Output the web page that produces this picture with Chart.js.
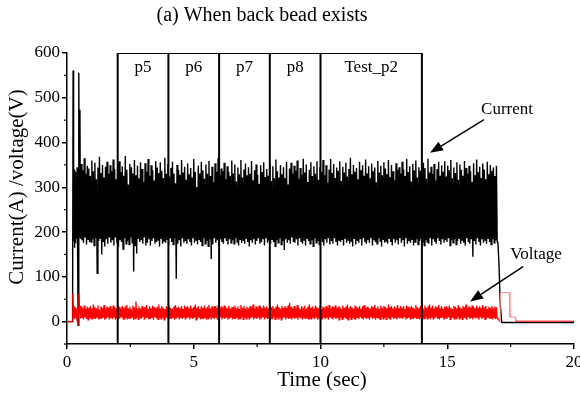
<!DOCTYPE html>
<html>
<head>
<meta charset="utf-8">
<script src="https://cdn.jsdelivr.net/npm/chart.js@4.4.1/dist/chart.umd.min.js"></script>
<style>
  html, body { margin: 0; padding: 0; background: #fff; }
  #wrap { width: 580px; height: 396px; }
</style>
</head>
<body>
<div id="wrap"><canvas id="chart"></canvas></div>
<script>
// axis ticks
const xTicks = [0, 5, 10, 15, 20];
const xMinor = [2.5, 7.5, 12.5, 17.5];
const yTicks = [0, 100, 200, 300, 400, 500, 600];
const yMinor = [-50, 50, 150, 250, 350, 450, 550];

// test windows
const boxEdges = [2, 4, 6, 8, 10, 14];
const boxLabels = ['p5', 'p6', 'p7', 'p8', 'Test_p2'];

// arc start transient [time, value]
const currentStart = [[0, 0], [0.22, 0], [0.24, 561], [0.26, 180], [0.28, 340], [0.30, 165], [0.32, 335], [0.34, 175],
    [0.36, 290], [0.38, 185], [0.40, 345], [0.42, 140], [0.44, -8], [0.46, -8], [0.47, 556], [0.49, 190], [0.51, 473], [0.53, 185]];
const voltageStart = [[0, 0], [0.22, 0], [0.23, 62], [0.25, 30], [0.27, 8], [0.29, 34], [0.31, 6], [0.33, 31], [0.35, 9],
    [0.37, 28], [0.39, 5], [0.41, 0], [0.43, -3], [0.45, 30], [0.47, 62], [0.49, 20], [0.51, 36], [0.53, 7]];

// steady welding, sampled every 0.03 s from 0.56 s
const bodyStart = 0.56;
const bodyStep = 0.03;
const currentBody = [
    352,182,338,176,365,188,330,172,348,184,342,178,325,178,360,184,336,170,355,186,
    318,108,344,180,368,186,332,150,350,178,322,168,346,184,357,174,330,188,349,176,
    336,182,362,170,341,188,318,176,353,166,358,182,334,178,347,162,326,186,370,174,
    339,180,306,172,352,188,345,176,331,112,361,170,327,152,348,186,320,178,356,182,
    341,174,312,188,354,170,335,176,363,184,326,170,349,180,338,186,315,174,359,178,
    344,182,332,168,356,186,337,174,321,180,366,176,330,184,352,170,324,188,343,178,
    357,172,331,186,309,96,350,174,339,182,328,168,361,186,333,176,346,180,317,174,
    353,184,329,178,343,170,322,186,363,176,334,182,300,172,348,184,331,178,357,170,
    338,186,319,174,351,180,330,168,359,184,325,140,346,172,311,186,354,176,335,182,
    365,170,327,184,342,178,336,174,355,186,318,180,347,172,334,184,326,176,360,182,
    331,174,351,186,313,178,344,170,329,184,361,176,322,182,340,174,353,186,327,178,
    345,168,330,182,359,176,316,184,338,172,351,180,328,186,308,174,349,178,334,184,
    356,170,323,186,341,176,326,182,352,174,314,184,347,178,320,168,362,182,336,176,
    322,186,350,172,329,180,345,160,321,184,357,176,306,182,342,174,355,188,331,178,
    348,176,337,184,360,170,319,186,343,178,328,174,364,182,333,170,351,186,312,180,
    339,174,356,182,325,168,347,186,330,176,358,180,317,172,345,184,334,178,361,170,
    327,184,349,176,310,186,340,172,363,180,332,174,352,186,321,178,344,170,337,182,
    358,178,314,184,346,170,333,186,355,176,324,182,341,174,366,180,329,168,350,186,
    335,172,343,180,318,176,357,184,338,170,349,186,326,178,362,174,331,182,347,176,
    320,186,353,170,336,182,344,178,311,174,359,186,333,180,348,168,327,184,356,176,
    342,180,329,174,361,186,323,178,350,170,336,184,316,176,354,182,339,172,345,186,
    331,176,357,182,340,168,325,186,363,174,334,180,347,176,313,184,352,170,338,178,
    360,184,322,172,345,180,337,186,328,176,355,170,343,182,319,178,364,174,333,186,
    346,170,330,184,352,178,315,174,341,186,357,180,326,172,349,184,335,176,358,182,
    324,178,348,186,338,170,361,182,320,176,344,184,332,172,356,180,317,186,351,174,
    339,182,326,176,359,170,343,186,330,178,348,174,336,184,312,145,354,180,327,172,
    362,186,334,178,346,170,321,184,353,176,340,182,318,174,357,186,329,178,350,172,
    337,184,344,176,325,182,348,178
];
const voltageBody = [
    34,8,30,5,36,10,28,6,33,4,31,9,35,7,29,5,38,8,32,6,
    30,10,36,5,27,8,34,6,31,9,37,4,29,7,33,10,30,5,35,8,
    28,6,36,9,32,4,30,8,38,5,33,7,29,10,35,6,31,4,34,9,
    37,5,30,8,33,6,28,10,36,4,32,7,45,9,30,5,34,8,29,6,
    35,10,31,4,33,7,37,9,28,5,34,6,30,8,36,4,32,10,29,7,
    33,5,38,8,30,6,35,9,31,4,28,7,34,10,32,5,36,8,30,6,
    29,9,34,4,37,7,31,10,33,5,30,8,35,6,28,9,36,4,32,7,
    34,10,30,5,36,8,29,6,33,9,38,4,31,7,35,10,28,5,34,8,
    31,6,36,9,30,4,33,7,37,10,29,5,34,8,32,6,35,9,30,4,
    37,7,28,10,34,5,31,8,36,6,33,9,30,4,35,7,29,10,32,5,
    33,8,36,6,30,9,34,4,28,7,37,10,31,5,35,8,29,6,33,9,
    30,4,35,7,32,10,38,5,29,8,34,6,31,9,36,4,33,7,30,10,
    36,5,31,8,34,6,29,9,37,4,32,7,35,10,30,5,33,8,38,6,
    32,9,29,4,35,7,31,10,34,5,30,8,36,6,42,7,33,5,29,9,
    35,6,30,8,37,4,32,10,28,7,34,5,31,9,36,6,29,8,33,4,
    38,7,31,5,34,9,29,6,36,10,32,4,30,8,35,7,28,5,33,9,
    30,6,35,8,32,4,37,10,29,7,34,5,31,9,36,6,30,8,33,4,
    34,9,28,5,36,7,31,10,33,6,38,4,30,8,35,5,32,9,29,7,
    36,4,33,8,30,6,35,10,28,7,34,5,37,9,31,6,33,8,30,4,
    29,10,35,6,32,8,37,4,30,9,34,7,28,5,36,10,31,6,35,8,
    33,5,30,9,38,7,32,4,35,10,29,6,34,8,31,5,37,9,30,7,
    35,8,31,6,34,10,28,5,36,7,33,9,30,4,35,8,32,6,29,10,
    37,6,32,8,30,5,35,9,33,4,29,7,36,10,31,6,34,8,38,5,
    31,9,36,4,29,7,34,10,32,6,37,5,30,8,35,9,28,4,33,7,
    34,6,30,10,36,5,31,8,28,9,35,4,33,7,30,10,37,6,32,8,
    29,5,35,9,32,7,38,4,30,10,34,6,31,8,36,5,33,9,29,7,
    36,8,31,4,34,10,30,6,37,9,32,5,35,7,28,10,33,6,31,8,
    35,5,30,9,34,6,32,8
];

// arc end
const currentEnd = [[17.0, 175], [17.04, 130], [17.09, 40], [17.15, -2], [20, -2]];
const voltageEnd = [[17.0, 6], [17.08, 0], [17.1, 65], [17.45, 65], [17.47, 10], [17.68, 10], [17.7, 1], [20, 1]];

// annotations (data coords)
const currentNote = { text: 'Current', at: [17.36, 473], from: [16.45, 451], to: [14.32, 377] };
const voltageNote = { text: 'Voltage', at: [18.5, 150], from: [17.99, 123], to: [15.9, 45] };

function series(start, body, end) {
    const pts = start.map(p => ({ x: p[0], y: p[1] }));
    body.forEach((v, i) => pts.push({ x: bodyStart + i * bodyStep, y: v }));
    end.forEach(p => pts.push({ x: p[0], y: p[1] }));
    return pts;
}

const serif = 'Liberation Serif, Times New Roman, serif';

const boxSets = boxEdges.map(e => ({
    data: [{ x: e, y: -50 }, { x: e, y: 600 }],
    borderColor: '#000', borderWidth: 2, pointRadius: 0, showLine: true, order: 0
}));
boxSets.push({
    data: [{ x: boxEdges[0], y: 600 }, { x: boxEdges[boxEdges.length - 1], y: 600 }],
    borderColor: '#000', borderWidth: 2, pointRadius: 0, showLine: true, order: 0
});

function arrow(ctx, x0, y0, x1, y1) {
    const a = Math.atan2(y1 - y0, x1 - x0);
    const len = 13, w = 5;
    const bx = x1 - len * Math.cos(a), by = y1 - len * Math.sin(a);
    ctx.beginPath();
    ctx.moveTo(x0, y0);
    ctx.lineTo(bx, by);
    ctx.stroke();
    ctx.beginPath();
    ctx.moveTo(x1, y1);
    ctx.lineTo(bx + w * Math.sin(a), by - w * Math.cos(a));
    ctx.lineTo(bx - w * Math.sin(a), by + w * Math.cos(a));
    ctx.closePath();
    ctx.fill();
}

const overlay = {
    id: 'overlay',
    afterDraw(chart) {
        const { ctx, chartArea } = chart;
        const x = chart.scales.x, y = chart.scales.y;
        ctx.save();
        ctx.strokeStyle = '#000';
        ctx.fillStyle = '#000';
        ctx.lineWidth = 1.2;
        xMinor.forEach(v => {
            const px = x.getPixelForValue(v);
            ctx.beginPath(); ctx.moveTo(px, chartArea.bottom); ctx.lineTo(px, chartArea.bottom + 3); ctx.stroke();
        });
        yMinor.forEach(v => {
            const py = y.getPixelForValue(v);
            ctx.beginPath(); ctx.moveTo(chartArea.left, py); ctx.lineTo(chartArea.left - 3, py); ctx.stroke();
        });

        ctx.textAlign = 'center';
        ctx.textBaseline = 'middle';
        ctx.font = '20px ' + serif;
        ctx.fillText('(a) When back bead exists', 262, 16);
        ctx.font = '21px ' + serif;
        ctx.fillText('Time (sec)', 322, 380);
        ctx.save();
        ctx.translate(17, 187);
        ctx.rotate(-Math.PI / 2);
        ctx.fillText('Current(A) /voltage(V)', 0, 0);
        ctx.restore();

        ctx.font = '17px ' + serif;
        boxLabels.forEach((t, i) => {
            const cx = (x.getPixelForValue(boxEdges[i]) + x.getPixelForValue(boxEdges[i + 1])) / 2;
            ctx.fillText(t, cx, y.getPixelForValue(567));
        });

        ctx.lineWidth = 1.5;
        [currentNote, voltageNote].forEach(n => {
            ctx.fillText(n.text, x.getPixelForValue(n.at[0]), y.getPixelForValue(n.at[1]));
            arrow(ctx, x.getPixelForValue(n.from[0]), y.getPixelForValue(n.from[1]),
                x.getPixelForValue(n.to[0]), y.getPixelForValue(n.to[1]));
        });
        ctx.restore();
    }
};

new Chart(document.getElementById('chart'), {
    type: 'scatter',
    data: {
        datasets: [
            {
                label: 'Current',
                data: series(currentStart, currentBody, currentEnd),
                borderColor: '#000', borderWidth: 1.4, pointRadius: 0, showLine: true, order: 2
            },
            {
                label: 'Voltage',
                data: series(voltageStart, voltageBody, voltageEnd),
                borderColor: '#ff0000', borderWidth: 1.3, pointRadius: 0, showLine: true, order: 1,
                segment: {
                    borderColor: c => (c.p0.parsed.x > 17.05 && c.p0.parsed.x < 17.69) ? '#ff8a8a' : undefined,
                    borderWidth: c => (c.p0.parsed.x > 17.05) ? 1 : undefined
                }
            },
            ...boxSets
        ]
    },
    options: {
        responsive: true,
        maintainAspectRatio: false,
        animation: false,
        layout: { padding: { top: 53, right: 6, left: 0, bottom: 0 } },
        plugins: {
            legend: { display: false },
            tooltip: { enabled: false },
            title: { display: false }
        },
        scales: {
            x: {
                type: 'linear', min: 0, max: 20,
                afterBuildTicks: s => { s.ticks = xTicks.map(v => ({ value: v })); },
                afterFit: s => { s.height = 52; s.paddingLeft = 0; s.paddingRight = 0; },
                grid: { drawOnChartArea: false, drawTicks: true, tickLength: 5, color: '#000', lineWidth: 1.5 },
                border: { color: '#000', width: 1.5 },
                ticks: { color: '#000', font: { family: serif, size: 17 }, padding: 3, maxRotation: 0 }
            },
            y: {
                type: 'linear', min: -50, max: 600,
                afterBuildTicks: s => { s.ticks = yTicks.map(v => ({ value: v })); },
                afterFit: s => { s.width = 67; s.paddingTop = 0; s.paddingBottom = 0; },
                grid: { drawOnChartArea: false, drawTicks: true, tickLength: 5, color: '#000', lineWidth: 1.5 },
                border: { color: '#000', width: 1.5 },
                ticks: { color: '#000', font: { family: serif, size: 17 }, padding: 2 }
            }
        }
    },
    plugins: [overlay]
});
</script>
</body>
</html>
